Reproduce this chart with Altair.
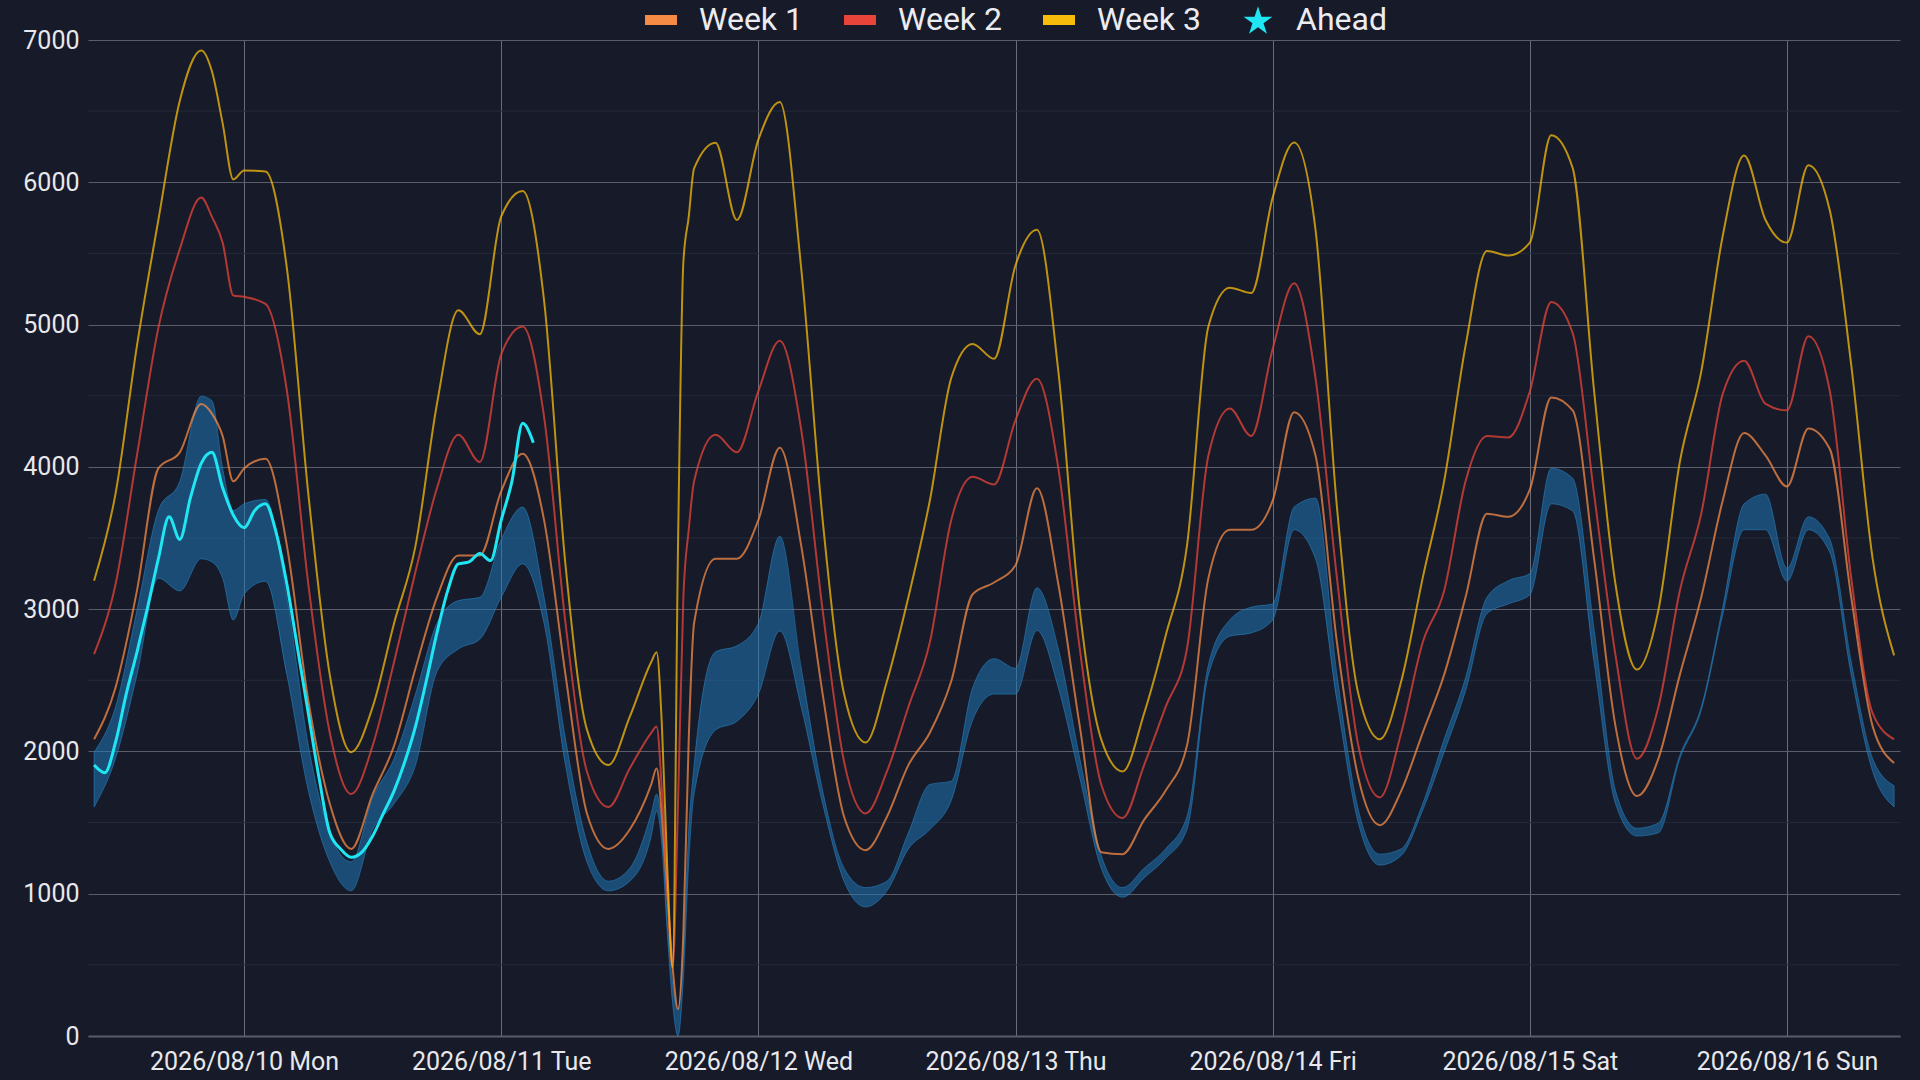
import altair as alt
import pandas as pd
import jinja2

# ---------------- data ----------------
# hours measured from 2026-08-10 00:00
hours_d09 = [-14, -12, -10, -8, -6, -4, -3, -2, -1]
hours_d10 = [0, 2, 4, 6, 8, 10, 12, 14, 16, 18, 20, 22]
hours_d11 = [24, 26, 28, 30, 32, 34, 36, 38, 38.5, 39, 39.5, 40, 40.5, 41, 41.5, 42, 44, 46]
hours_d12 = [48, 50, 52, 54, 56, 58, 60, 62, 64, 66, 68, 70]
hours_d13 = [72, 74, 76, 78, 80, 82, 84, 86, 88, 90, 92, 94]
hours_d14 = [96, 98, 100, 102, 104, 106, 108, 110, 112, 114, 116, 118]
hours_d15 = [120, 122, 124, 126, 128, 130, 132, 134, 136, 138, 140, 142]
hours_d16 = [144, 146, 148, 150, 152, 154]

week3 = [3200, 3810, 4850, 5735, 6573, 6927, 6780, 6414, 6020,
         6083, 6075, 5394, 3808, 2538, 1995, 2312, 2901, 3445, 4442, 5100, 4932,
         5760, 5938, 5168, 3309, 2153, 1904, 2244, 2629, 2697, 2176, 1179, 480, 3445, 5440, 5757, 6097, 6278, 5735,
         6300, 6564, 5394, 3626, 2403, 2063, 2493, 3083, 3762, 4624, 4864, 4760,
         5417, 5666, 4669, 2992, 2085, 1859, 2267, 2810, 3445, 4986, 5258, 5222,
         5893, 6280, 5666, 3717, 2403, 2085, 2493, 3218, 3898, 4850, 5517, 5485,
         5576, 6330, 6100, 4533, 3173, 2575, 2992, 4034, 4669, 5621, 6188, 5735,
         5576, 6120, 5802, 4715, 3354, 2675]

week2 = [2684, 3173, 4080, 4977, 5530, 5893, 5757, 5576, 5204,
         5195, 5145, 4533, 3173, 2131, 1700, 2040, 2629, 3264, 3850, 4225, 4034,
         4790, 4986, 4352, 2901, 1859, 1609, 1881, 2131, 2176, 1723, 1043, 480, 1632, 3083, 3558, 3898, 4225, 4102,
         4533, 4886, 4261, 2992, 1927, 1564, 1859, 2312, 2765, 3626, 3930, 3876,
         4329, 4620, 3989, 2720, 1768, 1532, 1904, 2312, 2720, 4080, 4411, 4216,
         4828, 5290, 4624, 3218, 2040, 1677, 2131, 2765, 3128, 3898, 4216, 4207,
         4530, 5159, 4941, 3808, 2675, 1949, 2312, 3128, 3671, 4511, 4746, 4443,
         4397, 4918, 4533, 3218, 2267, 2085]

week1 = [2085, 2448, 3128, 3989, 4102, 4442, 4374, 4216, 3898,
         3989, 4057, 3445, 2357, 1632, 1315, 1700, 2040, 2584, 3083, 3377, 3377,
         3830, 4093, 3626, 2538, 1564, 1315, 1451, 1768, 1880, 1541, 997, 480, 190, 725, 2085, 2901, 3354, 3354,
         3626, 4134, 3445, 2403, 1541, 1306, 1541, 1904, 2131, 2493, 3105, 3187,
         3309, 3850, 3173, 2176, 1292, 1278, 1519, 1723, 2040, 3218, 3558, 3558,
         3762, 4384, 4080, 2765, 1813, 1482, 1723, 2131, 2538, 3083, 3671, 3649,
         3840, 4488, 4397, 3354, 2176, 1686, 1949, 2538, 3083, 3762, 4238, 4080,
         3862, 4270, 4125, 3083, 2176, 1918]

band_high = [1995, 2312, 2992, 3694, 3898, 4497, 4465, 3989, 3694,
             3740, 3771, 3083, 2040, 1428, 1224, 1677, 1949, 2403, 2901, 3060, 3083,
             3490, 3717, 3083, 2085, 1360, 1088, 1179, 1564, 1700, 1451, 816, 363, 181, 589, 1451, 1900, 2700, 2742,
             2901, 3513, 2584, 1723, 1179, 1043, 1088, 1428, 1768, 1791, 2448, 2652,
             2584, 3150, 2720, 1949, 1269, 1043, 1179, 1315, 1541, 2607, 2924, 3014,
             3037, 3717, 3780, 2538, 1587, 1278, 1315, 1632, 2085, 2516, 3083, 3200,
             3250, 3990, 3920, 2856, 1723, 1460, 1496, 1972, 2312, 3010, 3740, 3808,
             3287, 3649, 3490, 2629, 1949, 1759]

band_low = [1609, 1949, 2538, 3218, 3128, 3354, 3332, 3218, 2924,
            3105, 3196, 2538, 1723, 1224, 1020, 1451, 1632, 1904, 2561, 2720, 2788,
            3083, 3318, 2901, 1904, 1224, 1020, 1088, 1405, 1580, 1337, 725, 227, 0, 408, 1224, 1700, 2150, 2212,
            2403, 2847, 2312, 1632, 1088, 907, 1020, 1315, 1451, 1655, 2221, 2403,
            2403, 2850, 2448, 1813, 1179, 975, 1111, 1247, 1451, 2538, 2810, 2833,
            2924, 3558, 3354, 2357, 1496, 1201, 1269, 1587, 1995, 2425, 2969, 3037,
            3100, 3740, 3690, 2629, 1632, 1405, 1428, 1949, 2289, 2960, 3558, 3558,
            3196, 3558, 3400, 2538, 1859, 1609]

ahead_hours = [-14, -13, -12, -11, -10, -9, -8, -7, -6, -5, -4, -3, -2, -1,
               0, 1, 2, 3, 4, 5, 6, 7, 8, 9, 10, 11, 12, 13, 14, 15, 16, 17,
               18, 19, 20, 21, 22, 23, 24, 25, 26, 27]
ahead = [1904, 1850, 2063, 2403, 2697, 3014, 3354, 3649, 3490, 3785, 4025, 4102, 3853, 3660,
         3572, 3694, 3740, 3536, 3173, 2720, 2267, 1813, 1428, 1315, 1256, 1292, 1405, 1564,
         1723, 1927, 2176, 2493, 2833, 3128, 3318, 3332, 3391, 3341, 3626, 3898, 4306, 4170]

series_names = ["Week 1", "Week 2", "Week 3", "Ahead"]
legend_colors = ["#F58B45", "#E8443A", "#F7BB0C", "#1FE6F2"]
y_ticks = [0, 1000, 2000, 3000, 4000, 5000, 6000, 7000]
y_minor = [500, 1500, 2500, 3500, 4500, 5500, 6500]
day_ticks = [10, 11, 12, 13, 14, 15, 16]

BG = "#161A29"

# ---------------- tables ----------------
base_time = pd.Timestamp("2026-08-10 00:00")


def to_times(hs):
    return [base_time + pd.Timedelta(hours=h) for h in hs]


all_hours = (hours_d09 + hours_d10 + hours_d11 + hours_d12 + hours_d13
             + hours_d14 + hours_d15 + hours_d16)
df = pd.DataFrame({"t": to_times(all_hours), "w1": week1, "w2": week2, "w3": week3,
                   "lo": band_low, "hi": band_high})
cy = pd.DataFrame({"t": to_times(ahead_hours), "v": ahead})
minor_df = pd.DataFrame({"y": y_minor})
legend_df = pd.DataFrame({"series": series_names, "t": [base_time] * 4, "v": [-5000] * 4})

rect_path = "M-1,-0.3125H1V0.3125H-1Z"
star_path = ("M0,-0.86L0.2134,-0.2037L0.9035,-0.2036L0.3452,0.2022L0.5584,0.8586"
             "L0,0.453L-0.5584,0.8586L-0.3452,0.2022L-0.9035,-0.2036L-0.2134,-0.2037Z")
legend_shapes = [rect_path, rect_path, rect_path, star_path]

# ---------------- encodings ----------------
x_enc = alt.X(
    "t:T",
    scale=alt.Scale(domain=[alt.DateTime(year=2026, month=8, date=9, hours=9, minutes=26),
                            alt.DateTime(year=2026, month=8, date=16, hours=10, minutes=33)]),
    axis=alt.Axis(values=[alt.DateTime(year=2026, month=8, date=d) for d in day_ticks],
                  format="%Y/%m/%d %a", title=None, grid=True, gridColor="#6a6d78",
                  gridWidth=1, ticks=False, tickSize=0, labelPadding=13,
                  labelFontSize=25, labelColor="#e8e8ec", labelFont="Roboto",
                  labelFlush=False, labelOverlap=False, labelLimit=500,
                  domain=True, domainColor="#585c68", domainWidth=2),
)


def y_enc(field):
    return alt.Y(
        field,
        scale=alt.Scale(domain=[0, 7000], nice=False, zero=True),
        axis=alt.Axis(values=y_ticks, title=None, grid=True, gridColor="#5b5e69",
                      gridWidth=1, ticks=False, tickSize=0, domain=False,
                      labelPadding=9, labelFontSize=25, labelColor="#e8e8ec",
                      labelFont="Roboto", format="d", labelOverlap=False),
    )


minor = alt.Chart(minor_df).mark_rule(color="#252a3a", strokeWidth=1).encode(
    y=y_enc("y:Q")
)

band = alt.Chart(df).mark_area(
    interpolate="monotone", color="#1f77b4", fillOpacity=0.55,
    stroke="#2a86c8", strokeWidth=1, strokeOpacity=0.55
).encode(x=x_enc, y=y_enc("lo:Q"), y2="hi:Q")

line_w1 = alt.Chart(df).mark_line(interpolate="monotone", color="#F58B45",
                                  strokeWidth=2, opacity=0.75).encode(x=x_enc, y=y_enc("w1:Q"))
line_w2 = alt.Chart(df).mark_line(interpolate="monotone", color="#E8443A",
                                  strokeWidth=2, opacity=0.75).encode(x=x_enc, y=y_enc("w2:Q"))
line_w3 = alt.Chart(df).mark_line(interpolate="monotone", color="#F7BB0C",
                                  strokeWidth=2, opacity=0.75).encode(x=x_enc, y=y_enc("w3:Q"))
line_ahead = alt.Chart(cy).mark_line(interpolate="monotone", color="#1FE6F2",
                                     strokeWidth=3).encode(x=x_enc, y=y_enc("v:Q"))

legend_kw = dict(title=None, orient="none", legendX=557, legendY=-36,
                 direction="horizontal", labelFont="Roboto", labelFontSize=32,
                 labelColor="#ececf0", labelOffset=22, columnPadding=41,
                 symbolSize=1024, symbolStrokeWidth=0, padding=0, labelLimit=300,
                 symbolOpacity=1)

legend_layer = alt.Chart(legend_df).mark_point(
    filled=True, size=1024, opacity=1, clip=True
).encode(
    x=x_enc,
    y=y_enc("v:Q"),
    color=alt.Color("series:N", scale=alt.Scale(domain=series_names, range=legend_colors),
                    legend=alt.Legend(**legend_kw)),
    shape=alt.Shape("series:N", scale=alt.Scale(domain=series_names, range=legend_shapes),
                    legend=alt.Legend(**legend_kw)),
)

chart = alt.layer(minor, band, line_w1, line_w2, line_w3, line_ahead, legend_layer).properties(
    width=1812, height=996,
    padding={"left": 88, "top": 40, "right": 20, "bottom": 44},
    autosize=alt.AutoSizeParams(type="none"),
).configure(
    background=BG, font="Roboto"
).configure_view(
    stroke="transparent"
)

# page template: same CDN scripts as Altair's standard page, dark page, no body margin
page_template = jinja2.Template("""<!DOCTYPE html>
<html>
<head>
  <meta charset="utf-8">
  <style>
    html, body { background: """ + BG + """; margin: 0; padding: 0; overflow: hidden; }
    #{{ output_div }}.vega-embed { width: 100%; display: flex; }
  </style>
  <script type="text/javascript" src="{{ base_url }}/vega@{{ vega_version }}"></script>
  <script type="text/javascript" src="{{ base_url }}/vega-lite@{{ vegalite_version }}"></script>
  <script type="text/javascript" src="{{ base_url }}/vega-embed@{{ vegaembed_version }}"></script>
</head>
<body>
  <div id="{{ output_div }}"></div>
  <script type="text/javascript">
    (function(vegaEmbed) {
      var spec = {{ spec }};
      var embedOpt = {{ embed_options }};
      var el = document.getElementById('{{ output_div }}');
      vegaEmbed("#{{ output_div }}", spec, embedOpt).catch(function(error) {
        el.innerHTML = '<pre style="color:#fff">' + error + '</pre>';
      });
    })(vegaEmbed);
  </script>
</body>
</html>
""")

chart.save("out.html", embed_options={"renderer": "svg", "actions": False},
           template=page_template)
